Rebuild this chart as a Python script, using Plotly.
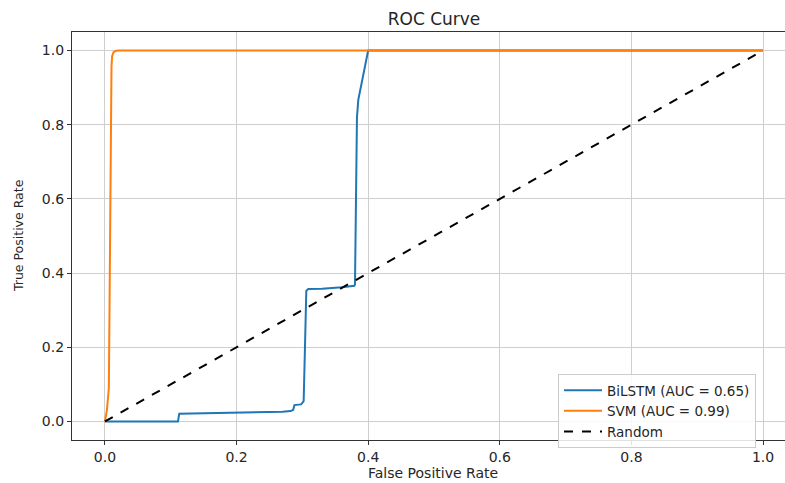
import plotly.graph_objects as go

# ---- data ----
bilstm_fpr = [0.0, 0.111, 0.113, 0.20, 0.27, 0.282, 0.286, 0.288, 0.298, 0.300,
              0.302, 0.304, 0.306, 0.309, 0.33, 0.36, 0.379, 0.380, 0.381,
              0.383, 0.385, 0.400, 1.0]
bilstm_tpr = [0.0, 0.0, 0.021, 0.023, 0.026, 0.028, 0.031, 0.044, 0.046, 0.050,
              0.055, 0.20, 0.352, 0.357, 0.358, 0.362, 0.366, 0.37, 0.55,
              0.82, 0.867, 1.0, 1.0]

svm_fpr = [0.0, 0.003, 0.005, 0.006, 0.007, 0.008, 0.009, 0.010, 0.011,
           0.013, 0.016, 0.020, 1.0]
svm_tpr = [0.0, 0.03, 0.07, 0.09, 0.30, 0.60, 0.95, 0.957, 0.985,
           0.995, 0.999, 1.0, 1.0]

rand_fpr = [0.0, 1.0]
rand_tpr = [0.0, 1.0]

names = ["BiLSTM (AUC = 0.65)", "SVM (AUC = 0.99)", "Random"]
tick_vals = [0.0, 0.2, 0.4, 0.6, 0.8, 1.0]
tick_text = ["0.0", "0.2", "0.4", "0.6", "0.8", "1.0"]

W, H = 785, 483
ML, MR, MT, MB = 72, 0, 32, 43
PW, PH = W - ML - MR, H - MT - MB
FONT = "DejaVu Sans"
TXT = "#262626"

fig = go.Figure()
fig.add_trace(go.Scatter(x=bilstm_fpr, y=bilstm_tpr, mode="lines", name=names[0],
                         line=dict(color="#1f77b4", width=2)))
fig.add_trace(go.Scatter(x=svm_fpr, y=svm_tpr, mode="lines", name=names[1],
                         line=dict(color="#ff7f0e", width=2)))
fig.add_trace(go.Scatter(x=rand_fpr, y=rand_tpr, mode="lines", name=names[2],
                         line=dict(color="black", width=2, dash="dash")))

axis_common = dict(
    tickvals=tick_vals, ticktext=tick_text, automargin=False,
    showgrid=True, gridcolor="#cfcfcf", gridwidth=1,
    zeroline=False, showline=True, linecolor="#333333", linewidth=1.2,
    ticks="outside", ticklen=4, tickcolor="#333333",
    tickfont=dict(family=FONT, size=14, color=TXT),
)

fig.update_layout(
    width=W, height=H,
    margin=dict(l=ML, r=MR, t=MT, b=MB, pad=0, autoexpand=False),
    paper_bgcolor="white", plot_bgcolor="white",
    font=dict(family=FONT, color=TXT),
    title=dict(text="ROC Curve", x=434 / W, xanchor="center",
               y=1 - 19 / H, yanchor="middle", yref="container",
               font=dict(family=FONT, size=17, color=TXT)),
    xaxis=dict(range=[-0.05, 1.0334], mirror=True, **axis_common),
    yaxis=dict(range=[-0.05, 1.05], **axis_common),
    legend=dict(x=(558 - ML) / PW, y=(440 - 374) / PH,
                xanchor="left", yanchor="top",
                bgcolor="rgba(255,255,255,0.85)", bordercolor="#cccccc",
                borderwidth=1,
                font=dict(family=FONT, size=13.5, color=TXT),
                tracegroupgap=0, itemwidth=38),
    showlegend=True,
    annotations=[
        dict(text="False Positive Rate", xref="paper", yref="paper",
             x=(433 - ML) / PW, y=-(483 - (MT + PH)) / PH,
             xanchor="center", yanchor="bottom", showarrow=False,
             font=dict(family=FONT, size=14, color=TXT)),
        dict(text="True Positive Rate", xref="paper", yref="paper",
             x=-(ML - 18) / PW, y=(MT + PH - 236) / PH, textangle=-90,
             xanchor="center", yanchor="middle", showarrow=False,
             font=dict(family=FONT, size=12.5, color=TXT)),
    ],
)

fig.write_html("out.html",
               config={"displayModeBar": False},
               post_script="document.body.style.margin='0';"
                           "document.body.style.padding='0';"
                           "document.body.style.overflow='hidden';")
